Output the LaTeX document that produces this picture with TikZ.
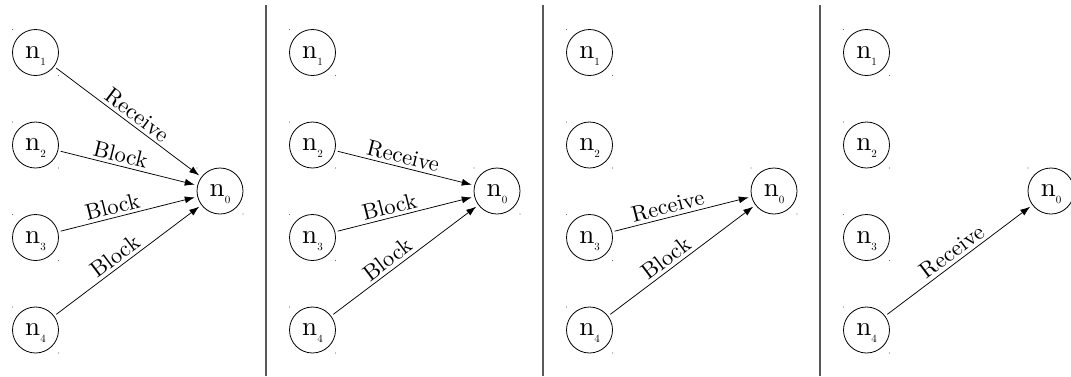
\documentclass[tikz,border=0pt]{standalone}
\usepackage{fontspec}
\setmainfont{lmroman10-regular}[Extension=.otf]
\usetikzlibrary{arrows.meta}
\tikzset{
  peer/.style={circle, draw, line width=0.8pt, minimum size=46pt, inner sep=0pt,
    outer sep=0pt, font=\fontsize{27}{29}\selectfont},
  msg/.style={-{Latex[length=10pt,width=7pt]}, line width=0.75pt,
    shorten <=3pt, shorten >=3pt},
  lab/.style={sloped, above, inner sep=3pt, font=\fontsize{22.5}{24}\selectfont},
  divider/.style={draw=black!65, line width=1.3pt},
  corner/.style={fill=black!55}
}
% node label: n with a low-hanging index
\newcommand{\nid}[1]{n\raisebox{-7pt}[0pt][0pt]{\fontsize{11}{11}\selectfont #1}}
\begin{document}
\begin{tikzpicture}[x=1pt,y=-1pt]
  \useasboundingbox (0,0) rectangle (1071,376);

  % panel separators
  \foreach \xx [count=\i] in {266,543,820}
    \draw[divider] (\xx,5) coordinate (sepTop\i) -- (\xx,376) coordinate (sepBot\i);

  % peers of each panel
  \foreach \p/\ox in {1/0,2/277,3/554,4/831} {
    \foreach \k/\yy in {1/52.5,2/145,3/237.5,4/330}
      \node[peer] (p\p n\k) at (35.5+\ox,\yy) {\nid{\k}};
    \node[peer] (p\p n0) at (220+\ox,191) {\nid{0}};
  }

  % small marks at the corners of every peer's box
  \foreach \p in {1,2,3,4}
    \foreach \k in {0,1,2,3,4} {
      \fill[corner] (p\p n\k.west |- p\p n\k.north) circle (0.6pt);
      \fill[corner] (p\p n\k.east |- p\p n\k.south) circle (0.6pt);
    }

  % panel 1
  \draw[msg] (p1n1) -- node[lab,pos=0.52]{Receive} (p1n0);
  \draw[msg] (p1n2) -- node[lab,pos=0.43]{Block} (p1n0);
  \draw[msg] (p1n3) -- node[lab,pos=0.41]{Block} (p1n0);
  \draw[msg] (p1n4) -- node[lab,pos=0.46]{Block} (p1n0);

  % panel 2
  \draw[msg] (p2n2) -- node[lab,pos=0.47]{Receive} (p2n0);
  \draw[msg] (p2n3) -- node[lab,pos=0.41]{Block} (p2n0);
  \draw[msg] (p2n4) -- node[lab,pos=0.43]{Block} (p2n0);

  % panel 3
  \draw[msg] (p3n3) -- node[lab,pos=0.42]{Receive} (p3n0);
  \draw[msg] (p3n4) -- node[lab,pos=0.44]{Block} (p3n0);

  % panel 4
  \draw[msg] (p4n4) -- node[lab,pos=0.5]{Receive} (p4n0);
\end{tikzpicture}
\end{document}
